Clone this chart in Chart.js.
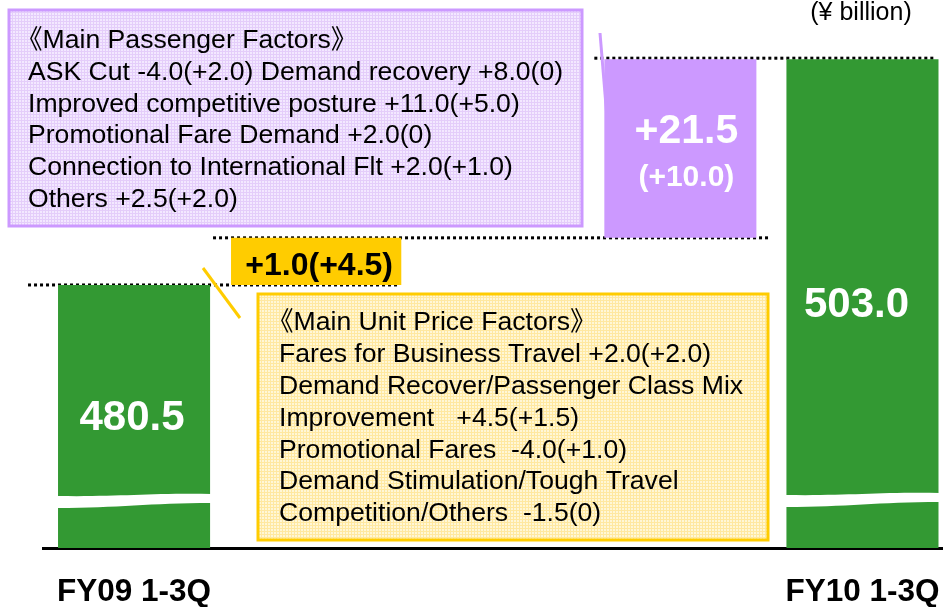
<!DOCTYPE html>
<html>
<head>
<meta charset="utf-8">
<script src="https://cdn.jsdelivr.net/npm/chart.js@4.4.1/dist/chart.umd.min.js"></script>
<style>
  html, body { margin: 0; padding: 0; background: #fff; overflow: hidden; }
  #wrap { width: 965px; height: 607px; }
</style>
</head>
<body>
<div id="wrap"><canvas id="myChart" width="965" height="607"></canvas></div>
<script>
// data
const categories = ['FY09 1-3Q', '', '', '', 'FY10 1-3Q'];
const totals = [480.5, 503.0];
const changes = [1.0, 21.5];        // unit price, passengers
const changesVsPlan = [4.5, 10.0];  // figures in brackets
const passengerFactors = [
  '《Main Passenger Factors》',
  'ASK Cut -4.0(+2.0) Demand recovery +8.0(0)',
  'Improved competitive posture +11.0(+5.0)',
  'Promotional Fare Demand +2.0(0)',
  'Connection to International Flt +2.0(+1.0)',
  'Others +2.5(+2.0)'
];
const unitPriceFactors = [
  '《Main Unit Price Factors》',
  'Fares for Business Travel +2.0(+2.0)',
  'Demand Recover/Passenger Class Mix',
  'Improvement   +4.5(+1.5)',
  'Promotional Fares  -4.0(+1.0)',
  'Demand Stimulation/Tough Travel',
  'Competition/Others  -1.5(0)'
];
const unitLabel = '(¥ billion)';

const GREEN = '#339933', PURPLE = '#cc99ff', YELLOW = '#ffcc00';
const FONT = "'Liberation Sans', Arial, 'Noto Sans CJK JP', sans-serif";

const signed = v => (v >= 0 ? '+' : '') + v.toFixed(1);

// y axis with a break: the part below the first total is squeezed,
// the two changes are not drawn to the same scale (as in the original slide)
class BrokenScale extends Chart.LinearScale {
  knots() {
    return {
      v: [0, totals[0], totals[0] + changes[0], totals[1]],
      f: [0, 0.48, 0.566, 0.892]
    };
  }
  getPixelForValue(value) {
    const { v, f } = this.knots();
    let i = 0;
    while (i < v.length - 2 && value > v[i + 1]) i++;
    const t = f[i] + (value - v[i]) * (f[i + 1] - f[i]) / (v[i + 1] - v[i]);
    return this.bottom - t * (this.bottom - this.top);
  }
  getValueForPixel(pixel) {
    const { v, f } = this.knots();
    const t = (this.bottom - pixel) / (this.bottom - this.top);
    let i = 0;
    while (i < f.length - 2 && t > f[i + 1]) i++;
    return v[i] + (t - f[i]) * (v[i + 1] - v[i]) / (f[i + 1] - f[i]);
  }
}
BrokenScale.id = 'broken';
BrokenScale.defaults = Chart.LinearScale.defaults;
Chart.register(BrokenScale);

function gridPattern(ctx, base, line) {
  const c = document.createElement('canvas');
  c.width = 3; c.height = 3;
  const p = c.getContext('2d');
  p.fillStyle = base;
  p.fillRect(0, 0, 3, 3);
  p.fillStyle = line;
  p.fillRect(0, 0, 3, 1);
  p.fillRect(0, 0, 1, 3);
  return ctx.createPattern(c, 'repeat');
}

function dotted(ctx, x1, x2, y) {
  ctx.save();
  ctx.strokeStyle = '#000';
  ctx.lineWidth = 3;
  ctx.setLineDash([3, 3]);
  ctx.beginPath();
  ctx.moveTo(x1, y);
  ctx.lineTo(x2, y);
  ctx.stroke();
  ctx.restore();
}

function factorBox(ctx, x, y, w, h, fill, border, lines, textX, firstY, step) {
  ctx.save();
  ctx.fillStyle = fill;
  ctx.fillRect(x, y, w, h);
  ctx.strokeStyle = border;
  ctx.lineWidth = 3;
  ctx.strokeRect(x, y, w, h);
  ctx.fillStyle = '#000';
  ctx.font = '26.6px ' + FONT;
  ctx.textAlign = 'left';
  ctx.textBaseline = 'middle';
  // the CJK bracket has a wide left bearing, pull the heading back a little
  lines.forEach((t, i) => ctx.fillText(t, i === 0 ? textX - 12 : textX, firstY + i * step));
  ctx.restore();
}

function breakMark(ctx, bar, yTop) {
  const l = bar.x - bar.width / 2 - 1, r = bar.x + bar.width / 2 + 1, w = r - l;
  ctx.save();
  ctx.fillStyle = '#fff';
  ctx.beginPath();
  ctx.moveTo(l, yTop + 1);
  ctx.bezierCurveTo(l + w * 0.4, yTop + 2, l + w * 0.6, yTop - 2, r, yTop - 1);
  ctx.lineTo(r, yTop + 8);
  ctx.bezierCurveTo(l + w * 0.6, yTop + 8, l + w * 0.4, yTop + 13, l, yTop + 13);
  ctx.closePath();
  ctx.fill();
  ctx.restore();
}

const overlay = {
  id: 'overlay',
  beforeDatasetsDraw(chart) {
    const ctx = chart.ctx, y = chart.scales.y;
    const bars = chart.getDatasetMeta(0).data;
    const step = chart.getDatasetMeta(1).data[1];
    dotted(ctx, bars[0].x - bars[0].width / 2 - 30, step.x + step.width / 2 - 2, y.getPixelForValue(totals[0]));
    dotted(ctx, step.x - step.width / 2 - 18, bars[3].x + bars[3].width / 2 + 12, y.getPixelForValue(totals[0] + changes[0]));
    dotted(ctx, bars[3].x - bars[3].width / 2 - 10, bars[4].x + bars[4].width / 2 - 4, y.getPixelForValue(totals[1]) - 1);
  },
  afterDatasetsDraw(chart) {
    const ctx = chart.ctx, area = chart.chartArea;
    const bars = chart.getDatasetMeta(0).data;
    const step = chart.getDatasetMeta(1).data[1];

    breakMark(ctx, bars[0], area.bottom - 53);
    breakMark(ctx, bars[4], area.bottom - 54);

    ctx.save();
    ctx.textAlign = 'center';
    ctx.textBaseline = 'middle';
    ctx.fillStyle = '#fff';
    ctx.font = 'bold 42px ' + FONT;
    ctx.fillText(totals[0].toFixed(1), bars[0].x - 2, (bars[0].y + bars[0].base) / 2 + 2);
    ctx.fillText(totals[1].toFixed(1), bars[4].x - 6, (bars[4].y + bars[4].base) / 2 + 2);
    const pm = (bars[3].y + bars[3].base) / 2;
    ctx.font = 'bold 41px ' + FONT;
    ctx.fillText(signed(changes[1]), bars[3].x + 6, pm - 17);
    ctx.font = 'bold 30px ' + FONT;
    ctx.fillText('(' + signed(changesVsPlan[1]) + ')', bars[3].x + 6, pm + 29);
    ctx.fillStyle = '#000';
    ctx.font = 'bold 32px ' + FONT;
    ctx.fillText(signed(changes[0]) + '(' + signed(changesVsPlan[0]) + ')', step.x + 3, (step.y + step.base) / 2 + 5);
    ctx.font = '25px ' + FONT;
    ctx.fillText(unitLabel, 861, 13);
    ctx.restore();

    // callout lines
    ctx.save();
    ctx.lineWidth = 3;
    ctx.strokeStyle = PURPLE;
    ctx.beginPath();
    ctx.moveTo(600, 33);
    ctx.lineTo(607, 118);
    ctx.stroke();
    ctx.strokeStyle = YELLOW;
    ctx.beginPath();
    ctx.moveTo(203, 268);
    ctx.lineTo(240, 318);
    ctx.stroke();
    ctx.restore();

    factorBox(ctx, 9, 10, 573, 216, gridPattern(ctx, '#f3e8ff', '#e4cdfa'), PURPLE,
      passengerFactors, 28, 41, 31.7);
    factorBox(ctx, 258, 294, 510, 246, gridPattern(ctx, '#fff7d6', '#ffe8a0'), YELLOW,
      unitPriceFactors, 279, 323, 31.8);
  }
};

new Chart(document.getElementById('myChart').getContext('2d'), {
  type: 'bar',
  data: {
    labels: categories,
    datasets: [
      {
        data: [[0, totals[0]], null, null, [totals[0] + changes[0], totals[0] + changes[0] + changes[1]], [0, totals[1]]],
        backgroundColor: [GREEN, GREEN, GREEN, PURPLE, GREEN],
        barPercentage: 0.835,
        categoryPercentage: 1,
        grouped: false
      },
      {
        data: [null, [totals[0], totals[0] + changes[0]], null, null, null],
        backgroundColor: YELLOW,
        barPercentage: 0.935,
        categoryPercentage: 1,
        grouped: false
      }
    ]
  },
  options: {
    responsive: false,
    animation: false,
    layout: { padding: { left: 43, right: 5, top: 0, bottom: 0 } },
    plugins: { legend: { display: false }, tooltip: { enabled: false } },
    scales: {
      x: {
        grid: { display: false, drawTicks: false },
        border: { display: true, color: '#000', width: 3 },
        ticks: {
          color: '#000',
          padding: 25,
          autoSkip: false,
          maxRotation: 0,
          font: { family: FONT, size: 31.5, weight: 'bold' }
        },
        afterFit: s => { s.height = 59; }
      },
      y: { type: 'broken', display: false, min: 0, max: 510 }
    }
  },
  plugins: [overlay]
});
</script>
</body>
</html>
